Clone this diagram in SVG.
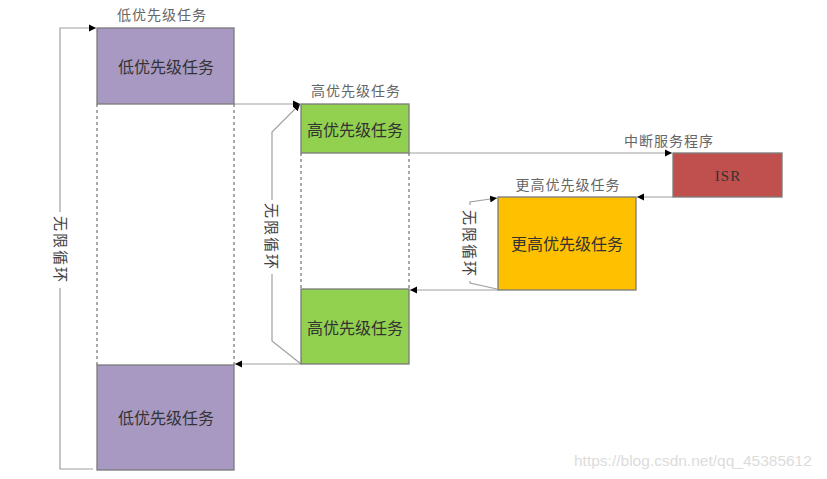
<svg xmlns="http://www.w3.org/2000/svg" width="827" height="479" viewBox="0 0 827 479">
<defs>
<marker id="ah" markerWidth="8" markerHeight="8" refX="7" refY="4" orient="auto" markerUnits="userSpaceOnUse">
<path d="M0,0.5 L7,4 L0,7.5 Z" fill="#000"/>
</marker>
<style>
.box{stroke:#7a7a7a;stroke-width:1.3}
.low{fill:#a899c3}
.high{fill:#92d050}
.higher{fill:#ffc000}
.isr{fill:#c0504d}
.bl{font-family:"Noto Sans CJK SC","Noto Sans",sans-serif;font-size:16px;fill:#333;text-anchor:middle;dominant-baseline:central}
.tl{font-family:"Noto Sans CJK SC","Noto Sans",sans-serif;font-size:14px;fill:#666;text-anchor:middle;dominant-baseline:central;letter-spacing:1px}
.loop{font-family:"Noto Sans CJK SC","Noto Sans",sans-serif;font-size:15px;fill:#444;text-anchor:middle;dominant-baseline:central;letter-spacing:2px}
.ln{stroke:#a0a0a0;stroke-width:1.2;fill:none}
.dash{stroke:#555;stroke-width:1;stroke-dasharray:3,3;fill:none}
.wm{font-family:"Liberation Sans",Arial,sans-serif;font-size:15.5px;fill:#dcdcdc}
</style>
</defs>
<rect width="827" height="479" fill="#fff"/>

<g id="connectors">
<line class="dash" x1="97" y1="104" x2="97" y2="365"/>
<line class="dash" x1="234" y1="104" x2="234" y2="365"/>
<line class="dash" x1="301" y1="153" x2="301" y2="289"/>
<line class="dash" x1="409" y1="153" x2="409" y2="289"/>
<line class="ln" x1="234" y1="104" x2="300" y2="104" marker-end="url(#ah)"/>
<line class="ln" x1="409" y1="153" x2="672" y2="153" marker-end="url(#ah)"/>
<line class="ln" x1="673" y1="197" x2="637" y2="197" marker-end="url(#ah)"/>
<line class="ln" x1="498" y1="290" x2="410" y2="290" marker-end="url(#ah)"/>
<line class="ln" x1="301" y1="364" x2="235" y2="364" marker-end="url(#ah)"/>
<polyline class="ln" points="93,469 60,469 60,28 96,28" marker-end="url(#ah)"/>
<polyline class="ln" points="301,364 272,341 272,132 300,104" marker-end="url(#ah)"/>
<polyline class="ln" points="497,289 470,283 470,202 497,198" marker-end="url(#ah)"/>
<rect x="52" y="212" width="16" height="76" fill="#fff"/>
<text class="loop" transform="translate(61,250) rotate(90)">无限循环</text>
<rect x="264" y="200" width="16" height="74" fill="#fff"/>
<text class="loop" transform="translate(272,237) rotate(90)">无限循环</text>
<rect x="462" y="205" width="16" height="76" fill="#fff"/>
<text class="loop" transform="translate(470,244) rotate(90)">无限循环</text>
</g>

<g id="low-top">
<rect class="box low" x="97" y="28" width="137" height="76"/>
<text class="bl" x="166" y="66">低优先级任务</text>
<text class="tl" x="162" y="14">低优先级任务</text>
</g>
<g id="high-top">
<rect class="box high" x="301" y="104" width="108" height="49"/>
<text class="bl" x="355" y="129">高优先级任务</text>
<text class="tl" x="356" y="90">高优先级任务</text>
</g>
<g id="isr">
<rect class="box isr" x="673" y="153" width="109" height="44"/>
<text x="728" y="176" font-family="'Liberation Serif',serif" font-size="15" fill="#333" text-anchor="middle" dominant-baseline="central" letter-spacing="1">ISR</text>
<text class="tl" x="669" y="140">中断服务程序</text>
</g>
<g id="higher">
<rect class="box higher" x="498" y="197" width="138" height="93"/>
<text class="bl" x="567" y="243">更高优先级任务</text>
<text class="tl" x="568" y="184">更高优先级任务</text>
</g>
<g id="high-bottom">
<rect class="box high" x="301" y="289" width="108" height="75"/>
<text class="bl" x="355" y="327">高优先级任务</text>
</g>
<g id="low-bottom">
<rect class="box low" x="97" y="365" width="137" height="105"/>
<text class="bl" x="166" y="417">低优先级任务</text>
</g>
<text class="wm" x="574" y="466">https://blog.csdn.net/qq_45385612</text>
</svg>
